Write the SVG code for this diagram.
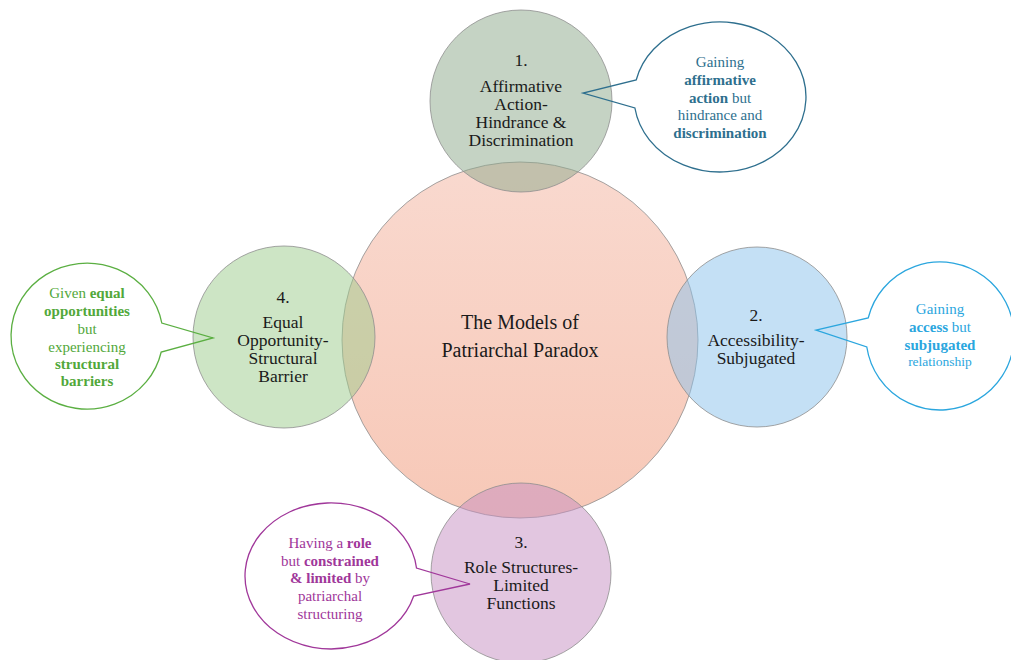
<svg xmlns="http://www.w3.org/2000/svg" width="1011" height="660" viewBox="0 0 1011 660">
<style>
.circ{stroke:#8f8f8f;stroke-width:1;stroke-opacity:0.8}
.sat{fill-opacity:0.5}
.lbl{font-family:"Liberation Serif","Times New Roman",serif;font-size:17.5px;fill:#1a1a1a;text-anchor:middle}
.ttl{font-family:"Liberation Serif","Times New Roman",serif;font-size:20px;fill:#1a1a1a;text-anchor:middle}
.co{font-family:"Liberation Serif","Times New Roman",serif;font-size:15px;text-anchor:middle}
.b{font-weight:bold}
.callout{fill:none;stroke-width:1.3}
</style>
<defs>
<linearGradient id="gc" x1="0" y1="0" x2="0" y2="1">
<stop offset="0" stop-color="#F9D9CF"/>
<stop offset="1" stop-color="#F7C8B7"/>
</linearGradient>
</defs>
<rect width="1011" height="660" fill="#ffffff"/>
<g id="center">
<circle class="circ" cx="520" cy="340" r="178" fill="url(#gc)"/>
</g>
<g id="node1">
<circle class="circ sat" cx="521" cy="101" r="91" fill="#8BA789"/>
</g>
<g id="node2">
<circle class="circ sat" cx="757" cy="337" r="90" fill="#89C1EB"/>
</g>
<g id="node3">
<circle class="circ sat" cx="521" cy="573" r="90" fill="#C58DC1"/>
</g>
<g id="node4">
<circle class="circ sat" cx="284" cy="337" r="91" fill="#9BCB8B"/>
</g>
<g id="center-text">
<text class="ttl" x="520" y="329">The Models of</text>
<text class="ttl" x="520" y="357">Patriarchal Paradox</text>
</g>
<g id="node1-text">
<text class="lbl" x="521" y="66">1.</text>
<text class="lbl" x="521" y="92">Affirmative</text>
<text class="lbl" x="521" y="110">Action-</text>
<text class="lbl" x="521" y="128">Hindrance &amp;</text>
<text class="lbl" x="521" y="146">Discrimination</text>
</g>
<g id="node2-text">
<text class="lbl" x="756" y="321">2.</text>
<text class="lbl" x="756" y="346">Accessibility-</text>
<text class="lbl" x="756" y="364">Subjugated</text>
</g>
<g id="node3-text">
<text class="lbl" x="521" y="548">3.</text>
<text class="lbl" x="521" y="573">Role Structures-</text>
<text class="lbl" x="521" y="591">Limited</text>
<text class="lbl" x="521" y="609">Functions</text>
</g>
<g id="node4-text">
<text class="lbl" x="283" y="303">4.</text>
<text class="lbl" x="283" y="328">Equal</text>
<text class="lbl" x="283" y="346">Opportunity-</text>
<text class="lbl" x="283" y="364">Structural</text>
<text class="lbl" x="283" y="382">Barrier</text>
</g>
<g id="connectors">
<path class="callout" stroke="#2E6F8E" d="M636.2,80 A86,75 0 1 1 634.9,108 L583,93 Z"/>
<path class="callout" stroke="#2BA6DE" d="M868.2,318 A74,74 0 1 1 866.8,347 L816,330 Z"/>
<path class="callout" stroke="#A0379A" d="M416.5,568 A86,73 0 1 0 413.7,596 L470,584 Z"/>
<path class="callout" stroke="#5BAF42" d="M161.8,323 A76,73 0 1 0 161.2,352 L213,338 Z"/>
</g>
<g id="callout1" fill="#2E6F8E">
<text class="co" x="720" y="67">Gaining</text>
<text class="co b" x="720" y="85">affirmative</text>
<text class="co" x="720" y="103"><tspan class="b">action</tspan> but</text>
<text class="co" x="720" y="120">hindrance and</text>
<text class="co b" x="720" y="138">discrimination</text>
</g>
<g id="callout2" fill="#2BA6DE">
<text class="co" x="940" y="314">Gaining</text>
<text class="co" x="940" y="332"><tspan class="b">access</tspan> but</text>
<text class="co b" x="940" y="350">subjugated</text>
<text class="co" x="940" y="366" style="font-size:13.5px">relationship</text>
</g>
<g id="callout3" fill="#A0379A">
<text class="co" x="330" y="548">Having a <tspan class="b">role</tspan></text>
<text class="co" x="330" y="566">but <tspan class="b">constrained</tspan></text>
<text class="co" x="330" y="583"><tspan class="b">&amp; limited</tspan> by</text>
<text class="co" x="330" y="601">patriarchal</text>
<text class="co" x="330" y="619">structuring</text>
</g>
<g id="callout4" fill="#52A83A">
<text class="co" x="87" y="298">Given  <tspan class="b">equal</tspan></text>
<text class="co b" x="87" y="316">opportunities</text>
<text class="co" x="87" y="334">but</text>
<text class="co" x="87" y="352">experiencing</text>
<text class="co b" x="87" y="369">structural</text>
<text class="co b" x="87" y="386">barriers</text>
</g>
</svg>
